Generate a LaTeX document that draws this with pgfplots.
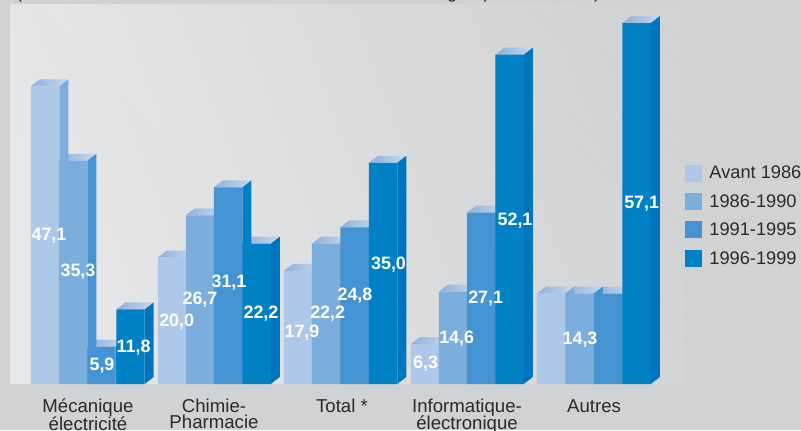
\documentclass[border=0pt]{standalone}
\usepackage{fontspec}
\setmainfont{Liberation Sans}
\usepackage{pgfplots}
\usepackage{pgfplotstable}
\pgfplotsset{compat=1.18}

\definecolor{pagebg}{HTML}{D1D2D4}
\definecolor{panelA}{HTML}{E6E7E9}
\definecolor{panelB}{HTML}{D0D1D3}
\definecolor{serA}{HTML}{AEC8E9}
\definecolor{serB}{HTML}{7BADDD}
\definecolor{serC}{HTML}{4494D3}
\definecolor{serD}{HTML}{0080C5}
\definecolor{serDside}{HTML}{0075BF}
\definecolor{topdark}{HTML}{8DB0DB}
\definecolor{toplight}{HTML}{C9D9EC}
\definecolor{inktext}{HTML}{2B2A29}

% bar centre (x) and share in percent for each period
\pgfplotstableread{
x     v
45.1  47.1
172.1 20.0
298.1 17.9
425.1 6.3
551.1 14.3
}\serieA
\pgfplotstableread{
x     v
73.1  35.3
200.1 26.7
326.1 22.2
453.1 14.6
579.6 14.3
}\serieB
\pgfplotstableread{
x     v
101.5 5.9
228.1 31.1
354.6 24.8
481.1 27.1
608.1 14.3
}\serieC
\pgfplotstableread{
x     v
130.5 11.8
256.6 22.2
383.1 35.0
509.6 52.1
636.6 57.1
}\serieD

\pgfmathsetmacro{\bhalf}{14.2}
\pgfmathsetmacro{\bdx}{9}
\pgfmathsetmacro{\bdy}{1.108}

% sloped top face of every bar of a series
\newcommand{\topfaces}[1]{%
  \pgfplotsforeachungrouped \r in {0,...,4}{%
    \pgfplotstablegetelem{\r}{x}\of{#1}\edef\cx{\pgfplotsretval}%
    \pgfplotstablegetelem{\r}{v}\of{#1}\edef\cv{\pgfplotsretval}%
    \pgfmathsetmacro{\xa}{\cx-\bhalf}\pgfmathsetmacro{\xb}{\cx+\bhalf}%
    \pgfmathsetmacro{\xc}{\xb+\bdx}\pgfmathsetmacro{\xd}{\xa+\bdx}%
    \pgfmathsetmacro{\yt}{\cv+\bdy}%
    \edef\cmd{\noexpand\addplot[forget plot,draw=none,left color=topdark,right color=toplight]
      coordinates {(\xa,\cv)(\xb,\cv)(\xc,\yt)(\xd,\yt)} -- cycle;}\cmd
  }%
}
% receding right face of every bar of a series
\newcommand{\sidefaces}[2]{%
  \pgfplotsforeachungrouped \r in {0,...,4}{%
    \pgfplotstablegetelem{\r}{x}\of{#1}\edef\cx{\pgfplotsretval}%
    \pgfplotstablegetelem{\r}{v}\of{#1}\edef\cv{\pgfplotsretval}%
    \pgfmathsetmacro{\xb}{\cx+\bhalf}\pgfmathsetmacro{\xc}{\xb+\bdx}%
    \pgfmathsetmacro{\yt}{\cv+\bdy}%
    \edef\cmd{\noexpand\addplot[forget plot,draw=none,fill=#2]
      coordinates {(\xb,0)(\xb,\cv)(\xc,\yt)(\xc,\bdy)} -- cycle;}\cmd
  }%
}

\begin{document}
\begin{tikzpicture}[x=1bp,y=1bp]
\useasboundingbox (0,0) rectangle (801,430);
\clip (0,0) rectangle (801,430);
\fill[pagebg] (0,0) rectangle (801,430);

% heading line above the panel, cut by the page edge
\begin{scope}[every node/.style={anchor=base,inner sep=0pt,text=inktext,font=\fontsize{18}{20}\selectfont}]
  \node at (19,431) {(};
  \node at (452,431) {g};
  \node at (488,431) {p};
  \node at (597,431) {)};
\end{scope}

% background panel with its fine diagonal hatching
\begin{scope}
  \clip[rounded corners=2bp] (10,46) rectangle (684,426);
  \shade[left color=panelA,right color=panelB,shading angle=110]
    (10,46) rectangle (684,426);
  \foreach \k in {0,4.6,...,1100}{
    \draw[white,opacity=0.16,line width=0.9bp] (\k-10,470) -- (\k+430,30);
  }
\end{scope}

\begin{axis}[
  at={(0bp,46bp)},anchor=south west,
  scale only axis,width=801bp,height=384bp,
  xmin=0,xmax=801,ymin=0,ymax=60.76,
  axis line style={draw=none},
  tick style={draw=none},
  ytick=\empty,
  xtick={88,214,342,467,594},
  xticklabels={{M\'ecanique\\[-1.5bp]\'electricit\'e},{Chimie-\\[-1.5bp]Pharmacie},Total *,{Informatique-\\[-1.5bp]\'electronique},Autres},
  xticklabel style={align=center,text=inktext,
    font=\fontsize{18.7}{17.5}\selectfont,inner sep=0pt,yshift=-15bp,anchor=north},
  clip=false,
  no markers,
  legend style={at={(axis cs:685,34.72)},anchor=north west,draw=none,fill=none,
    inner sep=0pt,outer sep=0pt,row sep=12bp,
    font=\fontsize{18.3}{20}\selectfont,text=inktext,
    nodes={inner sep=0pt},
    /tikz/every odd column/.append style={column sep=8bp}},
  legend cell align=left,
]
\addlegendimage{legend image code/.code={\fill[serA] (0,-7.5bp) rectangle (16bp,8.5bp);}}
\addlegendentry{Avant 1986}
\addlegendimage{legend image code/.code={\fill[serB] (0,-7.5bp) rectangle (16bp,8.5bp);}}
\addlegendentry{1986-1990}
\addlegendimage{legend image code/.code={\fill[serC] (0,-7.5bp) rectangle (16bp,8.5bp);}}
\addlegendentry{1991-1995}
\addlegendimage{legend image code/.code={\fill[serD] (0,-7.5bp) rectangle (16bp,8.5bp);}}
\addlegendentry{1996-1999}

% tops first, then sides, then fronts: a side stands out over the next bar's top
\topfaces{\serieA}\topfaces{\serieB}\topfaces{\serieC}\topfaces{\serieD}
\sidefaces{\serieA}{serB}\sidefaces{\serieB}{serC}\sidefaces{\serieC}{serD}\sidefaces{\serieD}{serDside}

\addplot[forget plot,ybar,bar width=28.4bp,bar shift=0pt,draw=none,fill=serA] table[x=x,y=v]{\serieA};
\addplot[forget plot,ybar,bar width=28.4bp,bar shift=0pt,draw=none,fill=serB] table[x=x,y=v]{\serieB};
\addplot[forget plot,ybar,bar width=28.4bp,bar shift=0pt,draw=none,fill=serC] table[x=x,y=v]{\serieC};
\addplot[forget plot,ybar,bar width=28.4bp,bar shift=0pt,draw=none,fill=serD] table[x=x,y=v]{\serieD};

% value labels
\begin{scope}[every node/.style={text=white,inner sep=0pt,yshift=-1.5bp,font=\fontsize{18}{20}\selectfont\bfseries}]
  \node at (axis cs:49,23.7) {47,1};
  \node at (axis cs:78,18.0) {35,3};
  \node at (axis cs:102,3.1) {5,9};
  \node at (axis cs:133.7,6.0) {11,8};
  \node at (axis cs:176.7,10.1) {20,0};
  \node at (axis cs:200,13.6) {26,7};
  \node at (axis cs:229,16.3) {31,1};
  \node at (axis cs:261,11.3) {22,2};
  \node at (axis cs:302,8.3) {17,9};
  \node at (axis cs:327.7,11.3) {22,2};
  \node at (axis cs:355,14.2) {24,8};
  \node at (axis cs:388.5,19.2) {35,0};
  \node at (axis cs:425.7,3.5) {6,3};
  \node at (axis cs:456.7,7.4) {14,6};
  \node at (axis cs:485.7,13.8) {27,1};
  \node at (axis cs:515,26.1) {52,1};
  \node at (axis cs:641.7,28.8) {57,1};
  \node at (axis cs:580,7.3) {14,3};
\end{scope}
\end{axis}
\end{tikzpicture}
\end{document}
